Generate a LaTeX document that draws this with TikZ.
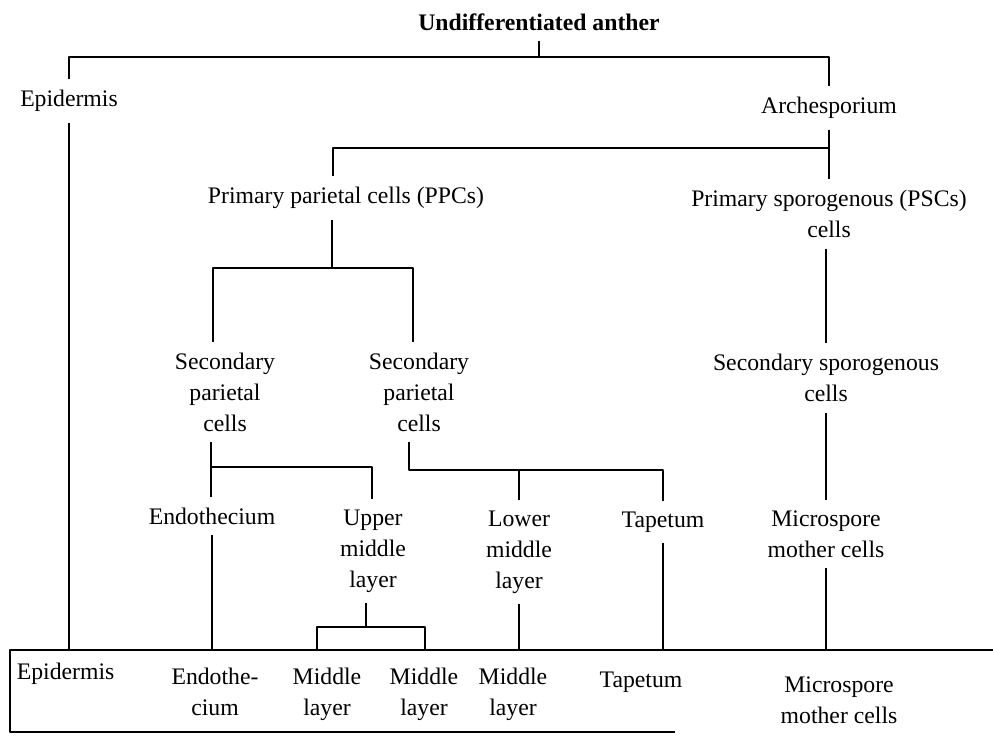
\documentclass[tikz,border=0pt]{standalone}
\usepackage{fontspec}
\setmainfont{Liberation Serif}
\begin{document}
\begin{tikzpicture}[x=0.02cm,y=-0.02cm,line join=bevel,
  every node/.style={font=\fontsize{13.5}{17.6}\selectfont,inner sep=6pt,align=center},
  link/.style={line width=1.1pt}]
\useasboundingbox (0,0) rectangle (993,740);
%%
  % Node: anther
  \node (anther) at (539,22) {\bfseries Undifferentiated anther};
  % Node: epidermis (top)
  \node (epiT) at (69,101) {Epidermis};
  % Node: archesporium
  \node (arch) at (829,108) {Archesporium};
  % Node: PPCs
  \node (ppc) at (346,198) {Primary parietal cells (PPCs)};
  % Node: PSCs
  \node (psc) at (829,214) {Primary sporogenous (PSCs)\\cells};
  % Node: secondary parietal cells
  \node (spc1) at (225,392) {Secondary\\parietal\\cells};
  \node (spc2) at (419,392) {Secondary\\parietal\\cells};
  % Node: secondary sporogenous cells
  \node (ssc) at (826,378) {Secondary sporogenous\\cells};
  % Node: wall layers
  \node (endo) at (212,516) {Endothecium};
  \node (upper) at (373,551) {Upper\\middle\\layer};
  \node (lower) at (519,552) {Lower\\middle\\layer};
  \node (tap) at (663,522) {Tapetum};
  \node (micro) at (826,534) {Microspore\\mother cells};
  % Node: mature anther wall
  \node[anchor=west] (epiB) at (6,674) {Epidermis};
  \node (endoB) at (215,692) {Endothe-\\cium};
  \node (mid1) at (327,694) {Middle\\layer};
  \node (mid2) at (424,694) {Middle\\layer};
  \node (mid3) at (513,694) {Middle\\layer};
  \node (tapB) at (641,682) {Tapetum};
  \node (microB) at (839,700) {Microspore\\mother cells};
%
  % Junctions
  \coordinate (r1) at (539,57);
  \coordinate (r2) at (333,148);
  \coordinate (r3) at (332,268);
  \coordinate (r3l) at (213,268);
  \coordinate (r3r) at (413,268);
  \coordinate (r4l) at (211,467);
  \coordinate (r4r) at (372,467);
  \coordinate (r5l) at (409,470);
  \coordinate (r5m) at (519,470);
  \coordinate (r5r) at (663,470);
  \coordinate (r6) at (366,627);
  \coordinate (r6l) at (317,627);
  \coordinate (r6r) at (425,627);
  % Box
  \coordinate (boxNW) at (10,650);
  \coordinate (boxNE) at (993,650);
  \coordinate (boxSW) at (10,732);
  \coordinate (boxSE) at (675,732);
%
  % Edge: anther -> epidermis, archesporium
  \draw [link] (anther.south) -- (r1);
  \draw [link] (epiT.north) -- (epiT.north |- r1) -- (arch.north |- r1) -- (arch.north);
  % Edge: epidermis -> epidermis
  \draw [link] (epiT.south) -- (epiT.south |- boxNW);
  % Edge: archesporium -> PPCs, PSCs
  \draw [link] (arch.south) -- (psc.north);
  \draw [link] (r2 |- ppc.north) -- (r2) -- (arch.south |- r2);
  % Edge: PPCs -> secondary parietal cells
  \draw [link] (r3 |- ppc.south) -- (r3);
  \draw [link] (r3l |- spc1.north) -- (r3l) -- (r3r) -- (r3r |- spc2.north);
  % Edge: PSCs -> secondary sporogenous cells
  \draw [link] (ssc.north |- psc.south) -- (ssc.north);
  % Edge: secondary parietal cells -> endothecium, upper middle layer
  \draw [link] (r4l |- spc1.south) -- (r4l |- endo.north);
  \draw [link] (r4l) -- (r4r) -- (r4r |- upper.north);
  % Edge: secondary parietal cells -> lower middle layer, tapetum
  \draw [link] (r5l |- spc2.south) -- (r5l) -- (r5r) -- (r5r |- tap.north);
  \draw [link] (r5m) -- (r5m |- lower.north);
  % Edge: secondary sporogenous cells -> microspore mother cells
  \draw [link] (ssc.south) -- (micro.north);
  % Edge: wall layers -> mature wall
  \draw [link] (endo.south) -- (endo.south |- boxNW);
  \draw [link] (r6 |- upper.south) -- (r6);
  \draw [link] (r6l |- boxNW) -- (r6l) -- (r6r) -- (r6r |- boxNW);
  \draw [link] (lower.south) -- (lower.south |- boxNW);
  \draw [link] (tap.south) -- (tap.south |- boxNW);
  \draw [link] (micro.south) -- (micro.south |- boxNW);
  % Box round the mature wall
  \draw [link] (boxNE) -- (boxNW) -- (boxSW) -- (boxSE);
%
\end{tikzpicture}
\end{document}
